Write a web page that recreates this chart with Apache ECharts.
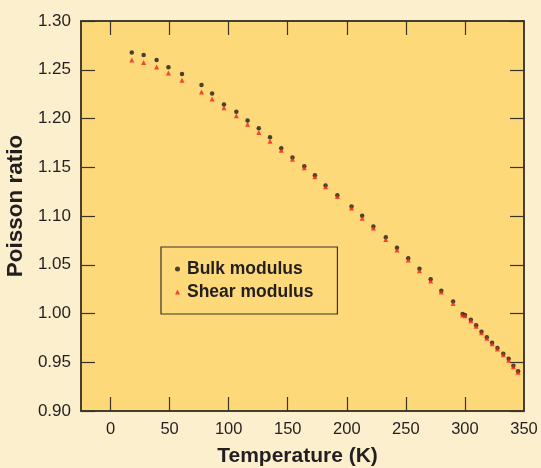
<!DOCTYPE html>
<html><head><meta charset="utf-8">
<script src="https://cdn.jsdelivr.net/npm/echarts@6/dist/echarts.min.js"></script>
<style>html,body{margin:0;padding:0;background:#FCEFCD;}#c{width:541px;height:468px;}</style>
</head><body><div id="c"></div>
<script>
const temperature = [18, 28, 39, 49, 60.5, 77, 86, 96, 106.5, 116, 125.5, 135, 144.5, 154, 164, 173, 182, 192, 204, 213, 222.5, 233, 242.5, 252, 261.5, 271, 280, 290, 298, 300, 305, 309.5, 314, 318.5, 323, 327.5, 332.5, 337, 341, 345];
const bulk = [1.2676, 1.2652, 1.2600, 1.2526, 1.2457, 1.2344, 1.2256, 1.2143, 1.2068, 1.1980, 1.1901, 1.1808, 1.1696, 1.1600, 1.1511, 1.1419, 1.1314, 1.1214, 1.1098, 1.1002, 1.0893, 1.0781, 1.0674, 1.0566, 1.0459, 1.0351, 1.0234, 1.0123, 0.9995, 0.9985, 0.9937, 0.9879, 0.9814, 0.9756, 0.9701, 0.9647, 0.9588, 0.9537, 0.9465, 0.9408];
const shear = [1.2600, 1.2574, 1.2529, 1.2467, 1.2392, 1.2273, 1.2201, 1.2109, 1.2027, 1.1942, 1.1857, 1.1767, 1.1675, 1.1583, 1.1494, 1.1402, 1.1299, 1.1201, 1.1081, 1.0978, 1.0876, 1.0760, 1.0651, 1.0548, 1.0439, 1.0333, 1.0220, 1.0102, 0.9985, 0.9978, 0.9926, 0.9869, 0.9803, 0.9746, 0.9691, 0.9636, 0.9578, 0.9521, 0.9455, 0.9398];
const xTicks = [0, 50, 100, 150, 200, 250, 300, 350];
const seriesNames = ['Bulk modulus', 'Shear modulus'];

const X_MIN = -25, X_MAX = 350, Y_MIN = 0.9, Y_MAX = 1.3;
const txt = '#231F20';
const lineC = '#3a3328';
const G = {left: 81, right: 17, top: 21, bottom: 57};

const chart = echarts.init(document.getElementById('c'), null, {renderer: 'canvas'});

function tickStyle() {
  return {show: true, inside: true, length: 14, lineStyle: {color: lineC, width: 1.2}};
}
function lineStyleAxis() {
  return {show: true, onZero: false, lineStyle: {color: lineC, width: 1.5}};
}

chart.setOption({
  animation: false,
  backgroundColor: '#FCEFCD',
  textStyle: {fontFamily: 'Liberation Sans, Arial, sans-serif'},
  grid: [
    Object.assign({outerBoundsMode: 'none', containLabel: false, show: true,
                   backgroundColor: '#FDD979', borderColor: lineC, borderWidth: 1.5}, G),
    Object.assign({outerBoundsMode: 'none', containLabel: false, show: false}, G)
  ],
  legend: {
    orient: 'vertical', left: 161, top: 247,
    data: [{name: seriesNames[0], icon: 'circle'}, {name: seriesNames[1], icon: 'triangle'}],
    itemWidth: 5, itemHeight: 5, itemGap: 5,
    padding: [13, 24, 13, 14],
    borderColor: lineC, borderWidth: 1.2,
    textStyle: {fontSize: 17.5, fontWeight: 'bold', color: txt, fontFamily: 'Liberation Sans, Arial, sans-serif', padding: [0, 0, 0, 2]}
  },
  xAxis: [
    {gridIndex: 0, type: 'value', min: X_MIN, max: X_MAX,
     axisLine: lineStyleAxis(),
     axisTick: Object.assign(tickStyle(), {customValues: xTicks.slice(0, 7)}),
     splitLine: {show: false},
     name: 'Temperature (K)', nameLocation: 'middle', nameGap: 35,
     nameTextStyle: {fontSize: 21, fontWeight: 'bold', color: txt, padding: [0, 10, 0, 0]},
     axisLabel: {show: true, customValues: xTicks, fontSize: 16.5, color: txt, margin: 10}},
    {gridIndex: 1, type: 'value', min: X_MIN, max: X_MAX, position: 'top',
     axisLine: lineStyleAxis(),
     axisTick: Object.assign(tickStyle(), {customValues: xTicks.slice(0, 7)}),
     splitLine: {show: false}, axisLabel: {show: false}}
  ],
  yAxis: [
    {gridIndex: 0, type: 'value', min: Y_MIN, max: Y_MAX, interval: 0.05,
     axisLine: lineStyleAxis(), axisTick: tickStyle(), splitLine: {show: false},
     name: 'Poisson ratio', nameLocation: 'middle', nameGap: 54,
     nameTextStyle: {fontSize: 22.5, fontWeight: 'bold', color: txt, padding: [0, 0, 0, 20]},
     axisLabel: {show: true, fontSize: 17, color: txt, margin: 10, formatter: v => v.toFixed(2)}},
    {gridIndex: 1, type: 'value', min: Y_MIN, max: Y_MAX, interval: 0.05, position: 'right',
     axisLine: lineStyleAxis(), axisTick: tickStyle(), splitLine: {show: false}, axisLabel: {show: false}}
  ],
  series: [
    {name: seriesNames[0], type: 'scatter', xAxisIndex: 0, yAxisIndex: 0, symbol: 'circle', symbolSize: 4.5,
     itemStyle: {color: '#1a1a1a'}, data: temperature.map((t, i) => [t, bulk[i]])},
    {name: seriesNames[1], type: 'scatter', xAxisIndex: 0, yAxisIndex: 0, symbol: 'triangle', symbolSize: 5,
     itemStyle: {color: '#F2201A'}, data: temperature.map((t, i) => [t, shear[i]])}
  ]
});
</script></body></html>
